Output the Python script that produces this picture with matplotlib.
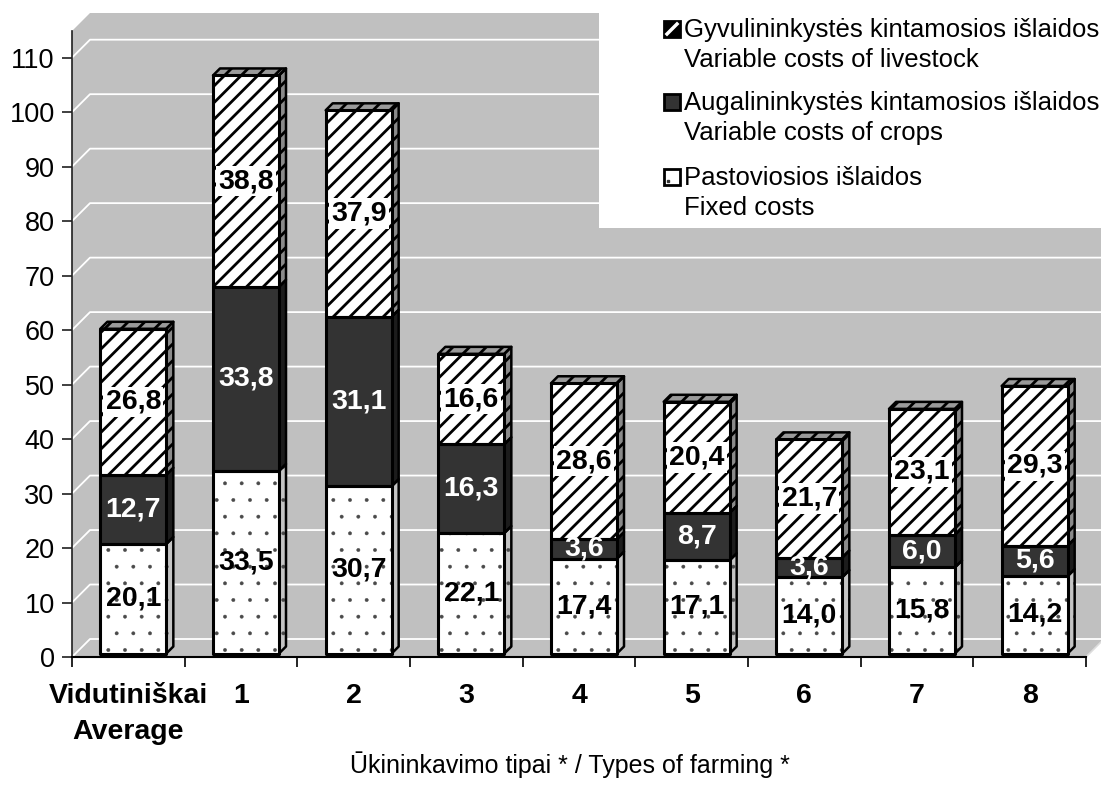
import matplotlib
matplotlib.use('Agg')
import matplotlib.pyplot as plt
from matplotlib.patches import Polygon, Rectangle
from matplotlib.lines import Line2D

plt.rcParams['font.family'] = ['Liberation Sans', 'DejaVu Sans']
plt.rcParams['hatch.linewidth'] = 2.0

# ---------------- data ----------------
categories = ['Vidutiniškai\nAverage', '1', '2', '3', '4', '5', '6', '7', '8']
fixed_costs = [20.1, 33.5, 30.7, 22.1, 17.4, 17.1, 14.0, 15.8, 14.2]
crop_costs = [12.7, 33.8, 31.1, 16.3, 3.6, 8.7, 3.6, 6.0, 5.6]
livestock_costs = [26.8, 38.8, 37.9, 16.6, 28.6, 20.4, 21.7, 23.1, 29.3]
legend_lines = [
    ('Gyvulininkystės kintamosios išlaidos', 'Variable costs of livestock'),
    ('Augalininkystės kintamosios išlaidos', 'Variable costs of crops'),
    ('Pastoviosios išlaidos', 'Fixed costs'),
]
yticks = list(range(0, 111, 10))
xlabel = 'Ūkininkavimo tipai * / Types of farming *'

# ---------------- layout ----------------
W, H = 1101, 785
fig = plt.figure(figsize=(W / 100, H / 100), dpi=100)
ax_l, ax_r, ax_b, ax_t = 72, 1086, 657, 31
ax = fig.add_axes([ax_l / W, (H - ax_b) / H, (ax_r - ax_l) / W, (ax_b - ax_t) / H])
n = len(categories)
ymax = 114.9
ax.set_xlim(-0.5, n - 0.5)
ax.set_ylim(0, ymax)
ax.patch.set_visible(False)

px_x = n / (ax_r - ax_l)        # data units per pixel (x)
px_y = ymax / (ax_b - ax_t)     # data units per pixel (y)

WALL = '#c0c0c0'
Dx, Dy = 18 * px_x, 18 * px_y   # wall depth
ox, oy = 5 * px_x, 3.5 * px_y   # bar front offset
bdx, bdy = 7 * px_x, 7 * px_y   # bar depth
bw = 66 * px_x                  # bar width

x0, x1 = -0.5, n - 0.5
for pts in [
    [(x0, 0), (x0, ymax), (x0 + Dx, ymax + Dy), (x0 + Dx, Dy)],
    [(x0 + Dx, Dy), (x0 + Dx, ymax + Dy), (x1 + Dx + 1, ymax + Dy), (x1 + Dx + 1, Dy)],
    [(x0, 0), (x1, 0), (x1 + Dx, Dy), (x0 + Dx, Dy)],
]:
    ax.add_patch(Polygon(pts, closed=True, facecolor=WALL, edgecolor='none',
                         zorder=0, clip_on=False))
ax.plot([x1, x1 + Dx], [0, Dy], color='#dddddd', lw=1.2, zorder=0.4, clip_on=False)

for v in yticks:
    ax.plot([x0, x0 + Dx, x1 + Dx + 1], [v, v + Dy, v + Dy], color='white',
            lw=1.3, zorder=0.5, clip_on=False)


def thin_hatch(patches, lw=0.3):
    for p in patches:
        if hasattr(p, 'set_hatch_linewidth'):
            p.set_hatch_linewidth(lw)


# ---------------- bars ----------------
xs = list(range(n))
bx = [x + ox for x in xs]
base_f = [oy] * n
base_c = [oy + f for f in fixed_costs]
base_l = [oy + f + c for f, c in zip(fixed_costs, crop_costs)]

series = [
    (fixed_costs, base_f, dict(facecolor='white', hatch='.'), '#c4c4c4', '#4a4a4a', True),
    (crop_costs, base_c, dict(facecolor='#333333'), '#1c1c1c', 'black', False),
    (livestock_costs, base_l, dict(facecolor='white', hatch='//'), '#8a8a8a', 'black', False),
]

for vals, base, style, side_col, hcol, dotted in series:
    for xc, v, b in zip(bx, vals, base):
        xr = xc + bw / 2
        pts = [(xr, b), (xr + bdx, b + bdy), (xr + bdx, b + v + bdy), (xr, b + v)]
        with plt.rc_context({'hatch.linewidth': 0.3 if dotted else 2.0}):
            sp = ax.add_patch(Polygon(pts, closed=True, facecolor=side_col, edgecolor=hcol,
                                      hatch=style.get('hatch'), lw=0, zorder=2))
        if dotted:
            thin_hatch([sp])
        ax.add_patch(Polygon(pts, closed=True, fill=False, edgecolor='black',
                             lw=1.8, zorder=2.1, joinstyle='round'))
    with plt.rc_context({'hatch.linewidth': 0.3 if dotted else 2.0}):
        bars = ax.bar(bx, vals, bw, bottom=base, edgecolor=hcol, lw=0, zorder=3, **style)
    if dotted:
        thin_hatch(bars.patches)
    ax.bar(bx, vals, bw, bottom=base, fill=False, edgecolor='black', lw=2.2,
           zorder=3.1, joinstyle='round')

for xc, v, b in zip(bx, livestock_costs, base_l):
    t = b + v
    xl, xr = xc - bw / 2, xc + bw / 2
    pts = [(xl, t), (xl + bdx, t + bdy), (xr + bdx, t + bdy), (xr, t)]
    ax.add_patch(Polygon(pts, closed=True, facecolor='#9a9a9a', edgecolor='black',
                         hatch='//', lw=0, zorder=2))
    ax.add_patch(Polygon(pts, closed=True, fill=False, edgecolor='black',
                         lw=1.8, zorder=2.1, joinstyle='round'))


def fmt(v):
    return f'{v:.1f}'.replace('.', ',')


LBL = 20.5
for xc, v, b in zip(bx, fixed_costs, base_f):
    ax.text(xc, b + v / 2, fmt(v), ha='center', va='center', fontsize=LBL,
            fontweight='bold', color='black', zorder=5)
for xc, v, b in zip(bx, crop_costs, base_c):
    ax.text(xc, b + v / 2, fmt(v), ha='center', va='center', fontsize=LBL,
            fontweight='bold', color='white', zorder=5)
for xc, v, b in zip(bx, livestock_costs, base_l):
    ax.text(xc, b + v / 2, fmt(v), ha='center', va='center', fontsize=LBL,
            fontweight='bold', color='black', zorder=5,
            bbox=dict(boxstyle='square,pad=0.08', facecolor='white', edgecolor='none'))

# ---------------- axes ----------------
for s in ['top', 'right']:
    ax.spines[s].set_visible(False)
ax.spines['left'].set_color('#202020')
ax.spines['left'].set_linewidth(1.2)
ax.spines['bottom'].set_color('black')
ax.spines['bottom'].set_linewidth(1.5)
ax.spines['left'].set_zorder(6)
ax.spines['bottom'].set_zorder(6)

ax.set_yticks(yticks)
ax.set_yticklabels([str(v) for v in yticks])
ax.tick_params(axis='y', length=7.5, width=1.2, labelsize=19.5, pad=5, color='#202020')

ax.set_xticks([i - 0.5 for i in range(n + 1)])
ax.set_xticklabels([])
ax.set_xticks(xs, minor=True)
ax.set_xticklabels(categories, minor=True, fontsize=20.5, fontweight='bold',
                   linespacing=1.5)
ax.tick_params(axis='x', which='major', length=7.5, width=1.2)
ax.tick_params(axis='x', which='minor', length=0, pad=19)

fig.text(570 / W, 1 - 765 / H, xlabel, ha='center', va='center', fontsize=18)

# ---------------- legend ----------------
fig.add_artist(Rectangle((599 / W, 1 - 228 / H), (W - 599) / W, 228 / H,
                         transform=fig.transFigure, facecolor='white',
                         edgecolor='none', zorder=10))
baselines = [(37, 67), (110, 140), (185, 215)]
marker_faces = ['black', '#333333', 'white']
mx, ms = 664, 16
for (l1, l2), (b1, b2), mf in zip(legend_lines, baselines, marker_faces):
    fig.text(684 / W, 1 - b1 / H, l1, ha='left', va='baseline', fontsize=18.5, zorder=11)
    fig.text(684 / W, 1 - b2 / H, l2, ha='left', va='baseline', fontsize=18.5, zorder=11)
    fig.add_artist(Rectangle((mx / W, 1 - b1 / H), ms / W, ms / H,
                             transform=fig.transFigure, facecolor=mf,
                             edgecolor='black', lw=2, zorder=11))
# white diagonal stripe of the livestock legend glyph
fig.add_artist(Line2D([(mx + 3) / W, (mx + ms - 3) / W],
                      [1 - (baselines[0][0] - 3) / H, 1 - (baselines[0][0] - ms + 3) / H],
                      transform=fig.transFigure, color='white', lw=2.5, zorder=12))
# tiny dot of the fixed-costs legend glyph
fig.add_artist(Line2D([(mx + 4) / W], [1 - (baselines[2][0] - 4) / H],
                      transform=fig.transFigure, marker='s', markersize=1.5,
                      color='#333333', lw=0, zorder=12))

fig.savefig('out.png', dpi=100)
